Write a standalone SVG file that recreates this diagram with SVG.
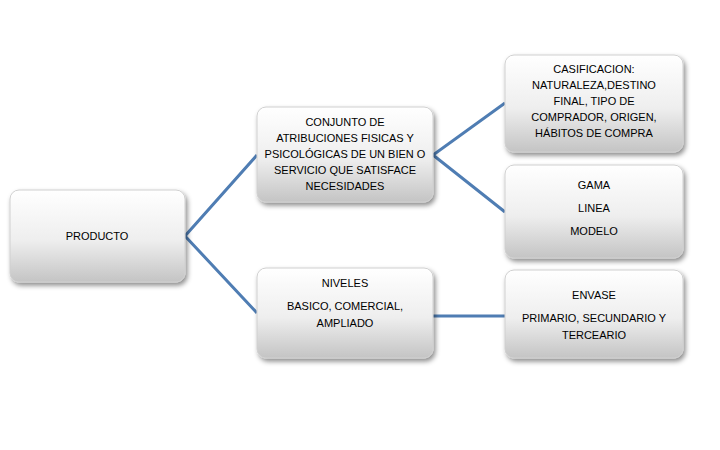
<svg xmlns="http://www.w3.org/2000/svg" width="720" height="450" viewBox="0 0 720 450">
<defs>
<linearGradient id="g" x1="0" y1="0" x2="0" y2="1">
<stop offset="0" stop-color="#ffffff"/><stop offset="0.55" stop-color="#eeeeee"/><stop offset="1" stop-color="#c4c4c4"/>
</linearGradient>
<filter id="sh" x="-10%" y="-10%" width="125%" height="130%"><feDropShadow dx="2" dy="3" stdDeviation="2.5" flood-color="#000" flood-opacity="0.45"/></filter>
</defs>
<style>
.b{fill:url(#g);stroke:#d0d0d0;stroke-width:1;filter:url(#sh)}
text{font-family:"Liberation Sans",Arial,sans-serif;font-size:11px;fill:#000;text-anchor:middle}
.c{stroke:#4f7db3;stroke-width:3;fill:none}
</style>
<rect width="720" height="450" fill="#fff"/>
<g id="connectors">
<polyline class="c" points="257,155 185,236 257,313"/>
<polyline class="c" points="505,103 433,155 505,212"/>
<line class="c" x1="433" y1="316" x2="505" y2="316"/>
</g>
<g id="producto"><rect class="b" x="10" y="190" width="175" height="92" rx="9"/><text x="97" y="240">PRODUCTO</text></g>
<g id="conjunto"><rect class="b" x="257" y="107" width="176" height="95" rx="9"/>
<text x="345" y="126">CONJUNTO DE</text><text x="345" y="142">ATRIBUCIONES FISICAS Y</text><text x="345" y="158">PSICOLÓGICAS DE UN BIEN O</text><text x="345" y="174">SERVICIO QUE SATISFACE</text><text x="345" y="190">NECESIDADES</text></g>
<g id="clasificacion"><rect class="b" x="505" y="55" width="178" height="97" rx="9"/>
<text x="594" y="73">CASIFICACION:</text><text x="594" y="89">NATURALEZA,DESTINO</text><text x="594" y="105">FINAL, TIPO DE</text><text x="594" y="121">COMPRADOR, ORIGEN,</text><text x="594" y="137">HÁBITOS DE COMPRA</text></g>
<g id="gama"><rect class="b" x="505" y="165" width="178" height="93" rx="9"/>
<text x="594" y="189">GAMA</text><text x="594" y="212">LINEA</text><text x="594" y="235">MODELO</text></g>
<g id="niveles"><rect class="b" x="257" y="268" width="176" height="90" rx="9"/>
<text x="345" y="287">NIVELES</text><text x="345" y="310">BASICO, COMERCIAL,</text><text x="345" y="327">AMPLIADO</text></g>
<g id="envase"><rect class="b" x="505" y="270" width="178" height="88" rx="9"/>
<text x="594" y="299">ENVASE</text><text x="594" y="322">PRIMARIO, SECUNDARIO Y</text><text x="594" y="339">TERCEARIO</text></g>
</svg>
